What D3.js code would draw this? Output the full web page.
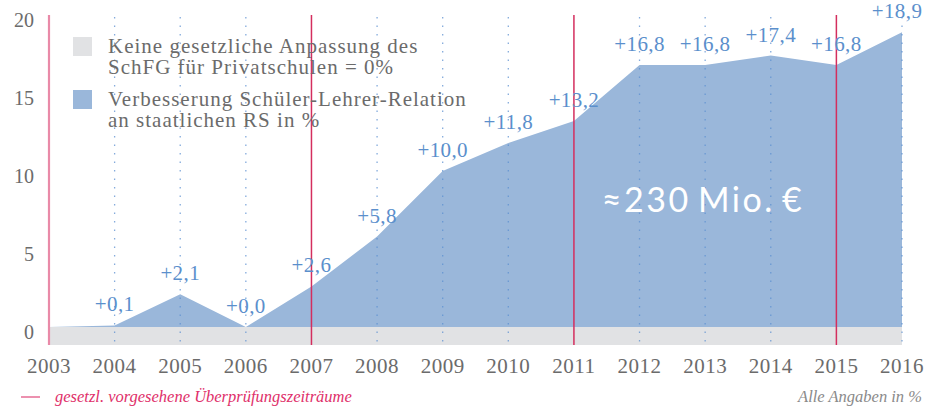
<!DOCTYPE html>
<html>
<head>
<meta charset="utf-8">
<script src="https://cdn.jsdelivr.net/npm/d3@7.9.0/dist/d3.min.js"></script>
<style>
  body { margin: 0; background: #fff; }
  svg { display: block; }
</style>
</head>
<body>
<div id="chart"></div>
<script>
// data
const years = [2003, 2004, 2005, 2006, 2007, 2008, 2009, 2010, 2011, 2012, 2013, 2014, 2015, 2016];
const improvement = [0, 0.1, 2.1, 0.0, 2.6, 5.8, 10.0, 11.8, 13.2, 16.8, 16.8, 17.4, 16.8, 18.9];
const reviewYears = [2003, 2007, 2011, 2015];
const yTicks = [0, 5, 10, 15, 20];
const legendItems = [
  { lines: ["Keine gesetzliche Anpassung des", "SchFG für Privatschulen = 0%"], color: "#e1e2e4" },
  { lines: ["Verbesserung Schüler-Lehrer-Relation", "an staatlichen RS in %"], color: "#9ab7da" }
];
const totalLabel = "≈230 Mio. €";
const footLeft = "gesetzl. vorgesehene Überprüfungszeiträume";
const footRight = "Alle Angaben in %";

const width = 926;
const height = 407;
const serif = "'Liberation Serif', 'DejaVu Serif', serif";
const grey = "#6b6b6b";
const blueText = "#5b8fcc";
const red = "#d42e5e";

const x = d3.scaleLinear().domain([2003, 2016]).range([49, 902]);
const y = d3.scaleLinear().domain([-1.15, 20]).range([345, 15]);

const svg = d3
  .select("#chart")
  .append("svg")
  .attr("width", width)
  .attr("height", height);

// grey band (0 %)
svg
  .append("path")
  .datum(years)
  .attr("fill", "#e1e2e4")
  .attr(
    "d",
    d3.area()
      .x((d) => x(d))
      .y0(y(y.domain()[0]))
      .y1(y(0))
  );

// blue area
const series = years.map((yr, i) => ({ year: yr, value: improvement[i] }));
svg
  .append("path")
  .datum(series)
  .attr("fill", "#9ab7da")
  .attr(
    "d",
    d3.area()
      .x((d) => x(d.year))
      .y0(y(0))
      .y1((d) => y(d.value))
  );

// dotted year lines
svg
  .append("g")
  .selectAll("line")
  .data(years.filter((yr) => !reviewYears.includes(yr)))
  .join("line")
  .attr("x1", (d) => x(d))
  .attr("x2", (d) => x(d))
  .attr("y1", y(20) + 2)
  .attr("y2", y(y.domain()[0]))
  .attr("stroke", "#5b8fd0")
  .attr("stroke-opacity", 0.75)
  .attr("stroke-width", 1.3)
  .attr("stroke-dasharray", "1.5,7");

// review lines
svg
  .append("g")
  .selectAll("line")
  .data(reviewYears)
  .join("line")
  .attr("x1", (d) => x(d))
  .attr("x2", (d) => x(d))
  .attr("y1", y(20))
  .attr("y2", y(y.domain()[0]))
  .attr("stroke", (d, i) => (i === 0 ? "#e98aa8" : red))
  .attr("stroke-width", (d, i) => (i === 0 ? 2.2 : 1.5));

// value labels
svg
  .append("g")
  .selectAll("text")
  .data(series.slice(1))
  .join("text")
  .attr("x", (d) => x(d.year) - (d.year === 2016 ? 5 : 0))
  .attr("y", (d) => y(d.value) - 14)
  .attr("text-anchor", "middle")
  .attr("font-family", serif)
  .attr("font-size", 21)
  .attr("letter-spacing", 0.4)
  .attr("fill", blueText)
  .text((d) => "+" + d3.format(".1f")(d.value).replace(".", ","));

// y labels
svg
  .append("g")
  .selectAll("text")
  .data(yTicks)
  .join("text")
  .attr("x", 34)
  .attr("y", (d) => y(d) + 12)
  .attr("text-anchor", "end")
  .attr("font-family", serif)
  .attr("font-size", 20)
  .attr("fill", grey)
  .text((d) => d);

// x labels
svg
  .append("g")
  .selectAll("text")
  .data(years)
  .join("text")
  .attr("x", (d) => x(d))
  .attr("y", 373)
  .attr("text-anchor", "middle")
  .attr("font-family", serif)
  .attr("font-size", 21)
  .attr("letter-spacing", 0.5)
  .attr("fill", grey)
  .text((d) => d);

// legend
const legend = svg
  .append("g")
  .selectAll("g")
  .data(legendItems)
  .join("g")
  .attr("transform", (d, i) => `translate(73,${37 + i * 53})`);
legend
  .append("rect")
  .attr("width", 19)
  .attr("height", 19)
  .attr("fill", (d) => d.color);
legend
  .append("text")
  .attr("font-family", serif)
  .attr("font-size", 21)
  .attr("letter-spacing", 1)
  .attr("fill", grey)
  .selectAll("tspan")
  .data((d) => d.lines)
  .join("tspan")
  .attr("x", 35)
  .attr("y", (d, i) => 16 + i * 20.5)
  .text((d) => d);

// total
svg
  .append("text")
  .attr("x", 703)
  .attr("y", 212)
  .attr("text-anchor", "middle")
  .attr("font-family", "Lato, 'Open Sans', sans-serif")
  .attr("font-weight", 400)
  .attr("font-size", 34)
  .attr("letter-spacing", 2.5)
  .attr("word-spacing", -4)
  .attr("fill", "#fff")
  .text(totalLabel);

// footer
svg
  .append("line")
  .attr("x1", 21)
  .attr("x2", 40)
  .attr("y1", 397)
  .attr("y2", 397)
  .attr("stroke", "#e0487a")
  .attr("stroke-width", 1.2);
svg
  .append("text")
  .attr("x", 55)
  .attr("y", 402)
  .attr("font-family", serif)
  .attr("font-style", "italic")
  .attr("font-size", 16.5)
  .attr("fill", "#e0306a")
  .text(footLeft);
svg
  .append("text")
  .attr("x", 922)
  .attr("y", 402)
  .attr("text-anchor", "end")
  .attr("font-family", serif)
  .attr("font-style", "italic")
  .attr("font-size", 16.5)
  .attr("fill", "#8a8a8a")
  .text(footRight);
</script>
</body>
</html>
